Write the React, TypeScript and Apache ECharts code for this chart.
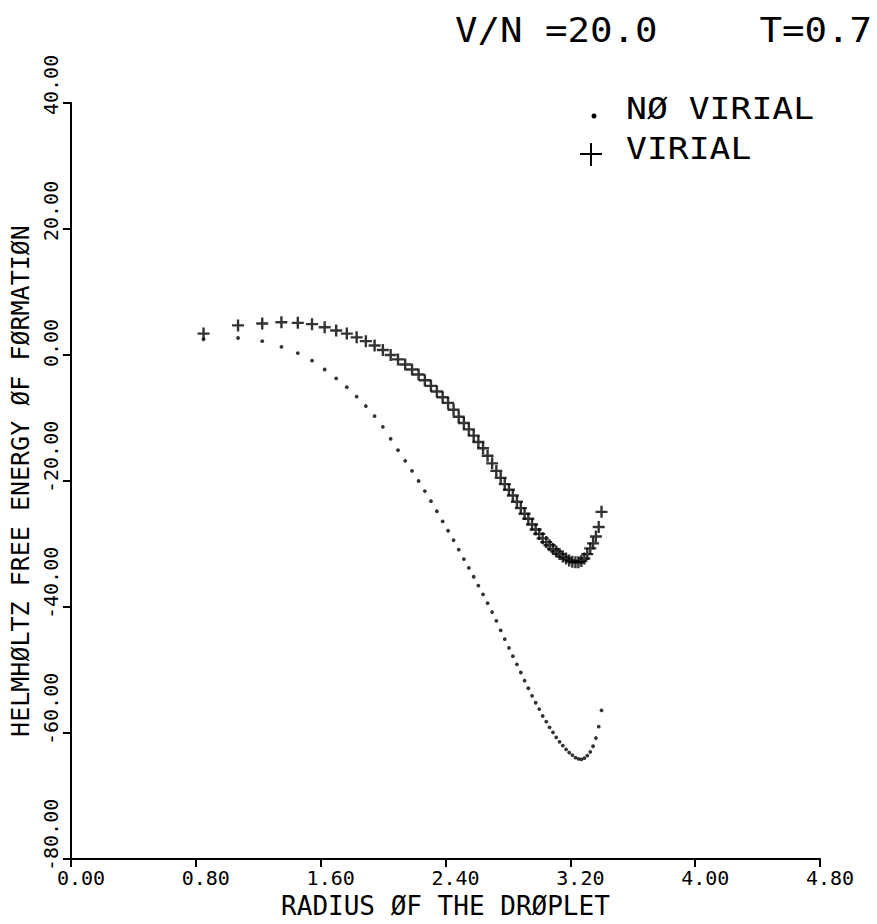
import React, { useEffect, useRef } from "react";
import * as echarts from "echarts";

// Droplet radius for each cluster (x values)
const radius = [
  0.85, 1.071, 1.226, 1.349, 1.454, 1.545, 1.626, 1.7, 1.768, 1.831, 1.89, 1.946, 1.999, 2.049, 2.096, 2.142,
  2.186, 2.228, 2.268, 2.307, 2.345, 2.382, 2.417, 2.452, 2.485, 2.518, 2.55, 2.581, 2.611, 2.641, 2.67, 2.699,
  2.726, 2.754, 2.78, 2.807, 2.832, 2.858, 2.883, 2.907, 2.931, 2.955, 2.978, 3.001, 3.023, 3.046, 3.067, 3.089,
  3.11, 3.131, 3.152, 3.173, 3.193, 3.213, 3.233, 3.252, 3.271, 3.29, 3.309, 3.328, 3.346, 3.364, 3.382, 3.4,
];

// Helmholtz free energy of formation, no virial correction (dots)
const energyNoVirial = [
  2.5, 2.7, 2.2, 1.3, 0.3, -0.9, -2.3, -3.7, -5.1, -6.6, -8.1, -9.7, -11.4, -13.3, -15.1, -16.8,
  -18.4, -20.0, -21.6, -23.2, -24.8, -26.4, -27.9, -29.4, -30.9, -32.4, -33.8, -35.2, -36.6, -38.0, -39.4, -40.8,
  -42.2, -43.7, -45.1, -46.5, -47.8, -49.1, -50.4, -51.7, -52.9, -54.1, -55.2, -56.2, -57.3, -58.2, -59.1, -59.9,
  -60.7, -61.4, -62.0, -62.6, -63.1, -63.5, -63.9, -64.1, -64.2, -64.0, -63.6, -63.0, -62.1, -60.8, -59.0, -56.4,
];

// Helmholtz free energy of formation, with virial correction (plus marks)
const energyVirial = [
  3.4, 4.7, 5.0, 5.2, 5.1, 4.9, 4.4, 3.9, 3.4, 2.8, 2.2, 1.5, 0.8, 0.0, -0.7, -1.5,
  -2.3, -3.1, -4.0, -4.9, -5.8, -6.7, -7.6, -8.7, -9.8, -10.8, -11.8, -12.8, -13.8, -14.8, -16.0, -17.2,
  -18.4, -19.5, -20.5, -21.4, -22.3, -23.3, -24.3, -25.2, -26.0, -26.9, -27.7, -28.4, -29.1, -29.7, -30.2, -30.8,
  -31.2, -31.6, -32.0, -32.3, -32.6, -32.8, -32.9, -32.9, -32.7, -32.3, -31.6, -30.7, -29.9, -28.8, -27.3, -24.9,
];

// Axis ranges / tick steps
const xRange = [0, 4.8];
const xStep = 0.8;
const yRange = [-80, 40];
const yStep = 20;

const titleLeft = "V/N =20.0";
const titleRight = "T=0.7";
const legendNames = ["NØ VIRIAL", "VIRIAL"];
const xName = "RADIUS ØF THE DRØPLET";
const yName = "HELMHØLTZ FREE ENERGY ØF FØRMATIØN";

const FONT = '"DejaVu Sans Mono", "Liberation Mono", monospace';
const PLUS = "path://M4.8,0H7.2V4.8H12V7.2H7.2V12H4.8V7.2H0V4.8H4.8Z";

export default function App() {
  const ref = useRef<HTMLDivElement>(null);

  useEffect(() => {
    const chart = echarts.init(ref.current!, null, { renderer: "svg" });
    const axisText = { color: "#000", fontFamily: FONT };
    const option: any = {
      animation: false,
      backgroundColor: "#fff",
      grid: { left: 61, right: 57, top: 103, bottom: 55 },
      xAxis: {
        type: "value",
        min: xRange[0],
        max: xRange[1],
        interval: xStep,
        name: xName,
        nameLocation: "middle",
        nameGap: 34,
        nameTextStyle: { ...axisText, fontSize: 26 },
        axisLine: { show: true, onZero: false, lineStyle: { color: "#000", width: 2 } },
        axisTick: { show: true, length: 8, lineStyle: { color: "#000", width: 2 } },
        axisLabel: {
          ...axisText,
          fontSize: 20,
          margin: 9,
          align: "left",
          padding: [0, 0, 0, -14],
          showMinLabel: true,
          showMaxLabel: true,
          hideOverlap: false,
          formatter: (v: number) => v.toFixed(2),
        },
        splitLine: { show: false },
      },
      yAxis: {
        type: "value",
        min: yRange[0],
        max: yRange[1],
        interval: yStep,
        name: yName,
        nameLocation: "middle",
        nameRotate: 90,
        nameGap: 26,
        nameTextStyle: { ...axisText, fontSize: 25 },
        axisLine: { show: true, onZero: false, lineStyle: { color: "#000", width: 2 } },
        axisTick: { show: true, length: 8, lineStyle: { color: "#000", width: 2 } },
        axisLabel: {
          ...axisText,
          fontSize: 20,
          rotate: 90,
          margin: 10,
          align: "left",
          padding: [0, 0, 0, -12],
          showMinLabel: true,
          showMaxLabel: true,
          hideOverlap: false,
          formatter: (v: number) => v.toFixed(2),
        },
        splitLine: { show: false },
      },
      series: [
        {
          type: "scatter",
          name: legendNames[0],
          data: radius.map((r, i) => [r, energyNoVirial[i]]),
          symbol: "circle",
          symbolSize: 3.8,
          itemStyle: { color: "#000" },
        },
        {
          type: "scatter",
          name: legendNames[1],
          data: radius.map((r, i) => [r, energyVirial[i]]),
          symbol: PLUS,
          symbolSize: 12,
          itemStyle: { color: "#000" },
        },
      ],
      graphic: [
        {
          type: "text",
          x: 455,
          y: 30,
          scaleX: 1.1,
          style: { text: titleLeft, fill: "#000", font: `34px ${FONT}`, align: "left", verticalAlign: "middle" },
        },
        {
          type: "text",
          x: 872,
          y: 30,
          scaleX: 1.1,
          style: { text: titleRight, fill: "#000", font: `34px ${FONT}`, align: "right", verticalAlign: "middle" },
        },
        { type: "circle", shape: { cx: 594, cy: 116, r: 2.5 }, style: { fill: "#000" } },
        {
          type: "text",
          x: 626,
          y: 108,
          scaleX: 1.12,
          style: { text: legendNames[0], fill: "#000", font: `31px ${FONT}`, align: "left", verticalAlign: "middle" },
        },
        { type: "line", shape: { x1: 580, y1: 154, x2: 602, y2: 154 }, style: { stroke: "#000", lineWidth: 2 } },
        { type: "line", shape: { x1: 591, y1: 143, x2: 591, y2: 166 }, style: { stroke: "#000", lineWidth: 2 } },
        {
          type: "text",
          x: 626,
          y: 148,
          scaleX: 1.12,
          style: { text: legendNames[1], fill: "#000", font: `31px ${FONT}`, align: "left", verticalAlign: "middle" },
        },
      ],
    };
    chart.setOption(option);
    return () => chart.dispose();
  }, []);

  return (
    <div
      ref={ref}
      style={{ position: "fixed", left: 0, top: 0, width: 877, height: 924, background: "#fff" }}
    />
  );
}
